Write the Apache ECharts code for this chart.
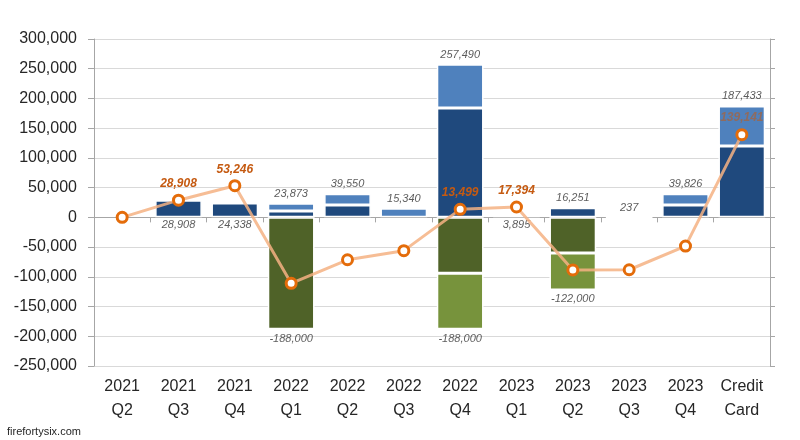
<!DOCTYPE html>
<html>
<head>
<meta charset="utf-8">
<script src="https://cdn.jsdelivr.net/npm/echarts@6/dist/echarts.min.js"></script>
<style>html,body{margin:0;padding:0;background:#fff;}#c{width:800px;height:440px;}</style>
</head>
<body>
<div id="c"></div>
<script>
var categories = ['2021\nQ2','2021\nQ3','2021\nQ4','2022\nQ1','2022\nQ2','2022\nQ3','2022\nQ4','2023\nQ1','2023\nQ2','2023\nQ3','2023\nQ4','Credit\nCard'];
var darkBlue   = [null, 28908, 24338, 10800, 21000, null, 184000, null, 16251, null, 21000, 120000];
var lightBlue  = [null, null, null, 13073, 18550, 15340, 73490, 3895, null, 237, 18826, 67433];
var darkGreen  = [null, null, null, -188000, null, null, -94000, null, -60000, null, null, null];
var lightGreen = [null, null, null, null, null, null, -94000, null, -62000, null, null, null];
var totalsAbove = [null, null, null, 23873, 39550, 15340, 257490, null, 16251, 237, 39826, 187433];
var totalsBelow = [null, 28908, 24338, null, null, null, null, 3895, null, null, null, null];
var negTotals  = [null, null, null, -188000, null, null, -188000, null, -122000, null, null, null];
var cumulative = [0, 28908, 53246, -110881, -71331, -55991, 13499, 17394, -88355, -88118, -48292, 139141];
var cumulativeLabelled = [false, true, true, false, false, false, true, true, false, false, false, true];
var cumulativeLabelFaded = [false, false, false, false, false, false, false, false, false, false, false, true];
var yTicks = { min: -250000, max: 300000, interval: 50000 };

function fmt(v){ return Number(v).toLocaleString('en-US'); }

var chart = echarts.init(document.getElementById('c'), null, {renderer:'canvas'});
var FONT = 'Liberation Sans';
var barBorder = { borderColor: '#ffffff', borderWidth: 1.5 };
var totalLabel = { show: true, fontStyle: 'italic', fontSize: 11, color: '#333333', fontFamily: FONT };

var lineData = cumulative.map(function(v, i){
  return { value: v, label: { show: cumulativeLabelled[i], opacity: cumulativeLabelFaded[i] ? 0.55 : 1 } };
});

chart.setOption({
  animation: false,
  backgroundColor: '#ffffff',
  textStyle: { fontFamily: FONT },
  grid: { left: 94, right: 30, top: 39, bottom: 74 },
  xAxis: [
    {
      type: 'category', data: categories, position: 'bottom',
      axisLine: { show: false, onZero: false },
      axisTick: { show: false },
      axisLabel: { fontSize: 16, lineHeight: 24, color: '#262626', margin: 9, interval: 0, fontFamily: FONT }
    },
    {
      type: 'category', data: categories, position: 'bottom',
      axisLine: { show: true, onZero: true, onZeroAxisIndex: 0, lineStyle: { color: '#a6a6a6', width: 1 } },
      axisTick: { show: true, length: 5, lineStyle: { color: '#a6a6a6' } },
      axisLabel: { show: false }
    }
  ],
  yAxis: [
    {
      type: 'value', min: yTicks.min, max: yTicks.max, interval: yTicks.interval, position: 'left',
      axisLine: { show: true, lineStyle: { color: '#a6a6a6' } },
      axisTick: { show: true, length: 6, lineStyle: { color: '#a6a6a6' } },
      axisLabel: { fontSize: 16, color: '#262626', margin: 17, formatter: function(v){ return fmt(v); }, fontFamily: FONT },
      splitLine: { show: true, lineStyle: { color: '#d9d9d9', width: 1 } }
    },
    {
      type: 'value', min: yTicks.min, max: yTicks.max, interval: yTicks.interval, position: 'right',
      axisLine: { show: true, lineStyle: { color: '#a6a6a6' } },
      axisTick: { show: true, length: 5, lineStyle: { color: '#a6a6a6' } },
      axisLabel: { show: false },
      splitLine: { show: false }
    }
  ],
  series: [
    { name: 'darkBlue', type: 'bar', stack: 's', barWidth: '83%', data: darkBlue,
      itemStyle: Object.assign({ color: '#1f497d' }, barBorder) },
    { name: 'lightBlue', type: 'bar', stack: 's', data: lightBlue,
      itemStyle: Object.assign({ color: '#4f81bd' }, barBorder) },
    { name: 'darkGreen', type: 'bar', stack: 's', data: darkGreen,
      itemStyle: Object.assign({ color: '#4f6228' }, barBorder) },
    { name: 'lightGreen', type: 'bar', stack: 's', data: lightGreen,
      itemStyle: Object.assign({ color: '#77933c' }, barBorder) },
    { name: 'totalsAbove', type: 'scatter', symbolSize: 0, data: totalsAbove, z: 5,
      label: Object.assign({ position: 'top', distance: 4, formatter: function(p){ return fmt(p.value); } }, totalLabel) },
    { name: 'totalsBelow', type: 'scatter', symbolSize: 0, z: 5,
      data: totalsBelow.map(function(v){ return v == null ? null : 0; }),
      label: Object.assign({ position: 'bottom', distance: 2, formatter: function(p){ return fmt(totalsBelow[p.dataIndex]); } }, totalLabel) },
    { name: 'negTotals', type: 'scatter', symbolSize: 0, data: negTotals, z: 5,
      label: Object.assign({ position: 'bottom', distance: 4, formatter: function(p){ return fmt(p.value); } }, totalLabel) },
    { name: 'cumulative', type: 'line', data: lineData, z: 10,
      symbol: 'circle', symbolSize: 10,
      lineStyle: { color: '#f4b183', width: 3, opacity: 0.85 },
      itemStyle: { color: '#ffffff', borderColor: '#e46c0a', borderWidth: 3 },
      label: { show: true, position: 'top', distance: 4, fontSize: 12, fontWeight: 'bold', fontStyle: 'italic',
        color: '#c55a11', fontFamily: FONT,
        formatter: function(p){ return fmt(p.value); } }
    }
  ],
  graphic: [
    { type: 'text', left: 7, top: 426, style: { text: 'firefortysix.com', fontSize: 11, fill: '#262626', fontFamily: FONT } }
  ]
});
</script>
</body>
</html>
